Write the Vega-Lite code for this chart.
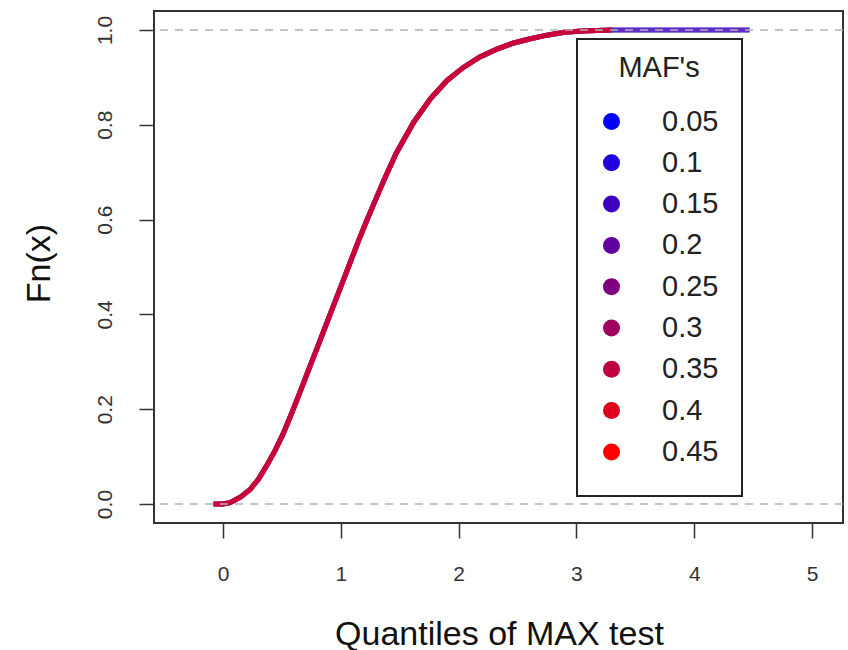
{
  "$schema": "https://vega.github.io/schema/vega-lite/v6.json",
  "autosize": {"type": "none"},
  "padding": {"left": 154, "top": 11, "right": 5, "bottom": 127},
  "width": 689,
  "height": 512,
  "background": "white",
  "datasets": {
    "curves": [
      {"maf":"0.05","q":-0.08,"Fn":0},{"maf":"0.05","q":0,"Fn":0},{"maf":"0.05","q":0.06,"Fn":0.003},{"maf":"0.05","q":0.15,"Fn":0.015},{"maf":"0.05","q":0.23,"Fn":0.031},{"maf":"0.05","q":0.3,"Fn":0.052},{"maf":"0.05","q":0.37,"Fn":0.081},{"maf":"0.05","q":0.44,"Fn":0.112},{"maf":"0.05","q":0.51,"Fn":0.148},{"maf":"0.05","q":0.58,"Fn":0.19},{"maf":"0.05","q":0.65,"Fn":0.234},{"maf":"0.05","q":0.72,"Fn":0.279},{"maf":"0.05","q":0.8,"Fn":0.33},{"maf":"0.05","q":0.87,"Fn":0.375},{"maf":"0.05","q":0.94,"Fn":0.42},{"maf":"0.05","q":1.01,"Fn":0.465},{"maf":"0.05","q":1.08,"Fn":0.51},{"maf":"0.05","q":1.15,"Fn":0.555},{"maf":"0.05","q":1.22,"Fn":0.598},{"maf":"0.05","q":1.29,"Fn":0.639},{"maf":"0.05","q":1.36,"Fn":0.68},{"maf":"0.05","q":1.47,"Fn":0.74},{"maf":"0.05","q":1.62,"Fn":0.806},{"maf":"0.05","q":1.76,"Fn":0.855},{"maf":"0.05","q":1.9,"Fn":0.893},{"maf":"0.05","q":2.04,"Fn":0.921},{"maf":"0.05","q":2.18,"Fn":0.943},{"maf":"0.05","q":2.32,"Fn":0.959},{"maf":"0.05","q":2.46,"Fn":0.972},{"maf":"0.05","q":2.6,"Fn":0.981},{"maf":"0.05","q":2.75,"Fn":0.989},{"maf":"0.05","q":2.9,"Fn":0.995},{"maf":"0.05","q":3.05,"Fn":0.998},{"maf":"0.05","q":3.3,"Fn":1},{"maf":"0.05","q":4.47,"Fn":1},
      {"maf":"0.1","q":-0.08,"Fn":0},{"maf":"0.1","q":0,"Fn":0},{"maf":"0.1","q":0.06,"Fn":0.003},{"maf":"0.1","q":0.15,"Fn":0.015},{"maf":"0.1","q":0.23,"Fn":0.031},{"maf":"0.1","q":0.3,"Fn":0.052},{"maf":"0.1","q":0.37,"Fn":0.081},{"maf":"0.1","q":0.44,"Fn":0.112},{"maf":"0.1","q":0.51,"Fn":0.148},{"maf":"0.1","q":0.58,"Fn":0.19},{"maf":"0.1","q":0.65,"Fn":0.234},{"maf":"0.1","q":0.72,"Fn":0.279},{"maf":"0.1","q":0.8,"Fn":0.33},{"maf":"0.1","q":0.87,"Fn":0.375},{"maf":"0.1","q":0.94,"Fn":0.42},{"maf":"0.1","q":1.01,"Fn":0.465},{"maf":"0.1","q":1.08,"Fn":0.51},{"maf":"0.1","q":1.15,"Fn":0.555},{"maf":"0.1","q":1.22,"Fn":0.598},{"maf":"0.1","q":1.29,"Fn":0.639},{"maf":"0.1","q":1.36,"Fn":0.68},{"maf":"0.1","q":1.47,"Fn":0.74},{"maf":"0.1","q":1.62,"Fn":0.806},{"maf":"0.1","q":1.76,"Fn":0.855},{"maf":"0.1","q":1.9,"Fn":0.893},{"maf":"0.1","q":2.04,"Fn":0.921},{"maf":"0.1","q":2.18,"Fn":0.943},{"maf":"0.1","q":2.32,"Fn":0.959},{"maf":"0.1","q":2.46,"Fn":0.972},{"maf":"0.1","q":2.6,"Fn":0.981},{"maf":"0.1","q":2.75,"Fn":0.989},{"maf":"0.1","q":2.9,"Fn":0.995},{"maf":"0.1","q":3.05,"Fn":0.998},{"maf":"0.1","q":3.3,"Fn":1},{"maf":"0.1","q":4.47,"Fn":1},
      {"maf":"0.15","q":-0.08,"Fn":0},{"maf":"0.15","q":0,"Fn":0},{"maf":"0.15","q":0.06,"Fn":0.003},{"maf":"0.15","q":0.15,"Fn":0.015},{"maf":"0.15","q":0.23,"Fn":0.031},{"maf":"0.15","q":0.3,"Fn":0.052},{"maf":"0.15","q":0.37,"Fn":0.081},{"maf":"0.15","q":0.44,"Fn":0.112},{"maf":"0.15","q":0.51,"Fn":0.148},{"maf":"0.15","q":0.58,"Fn":0.19},{"maf":"0.15","q":0.65,"Fn":0.234},{"maf":"0.15","q":0.72,"Fn":0.279},{"maf":"0.15","q":0.8,"Fn":0.33},{"maf":"0.15","q":0.87,"Fn":0.375},{"maf":"0.15","q":0.94,"Fn":0.42},{"maf":"0.15","q":1.01,"Fn":0.465},{"maf":"0.15","q":1.08,"Fn":0.51},{"maf":"0.15","q":1.15,"Fn":0.555},{"maf":"0.15","q":1.22,"Fn":0.598},{"maf":"0.15","q":1.29,"Fn":0.639},{"maf":"0.15","q":1.36,"Fn":0.68},{"maf":"0.15","q":1.47,"Fn":0.74},{"maf":"0.15","q":1.62,"Fn":0.806},{"maf":"0.15","q":1.76,"Fn":0.855},{"maf":"0.15","q":1.9,"Fn":0.893},{"maf":"0.15","q":2.04,"Fn":0.921},{"maf":"0.15","q":2.18,"Fn":0.943},{"maf":"0.15","q":2.32,"Fn":0.959},{"maf":"0.15","q":2.46,"Fn":0.972},{"maf":"0.15","q":2.6,"Fn":0.981},{"maf":"0.15","q":2.75,"Fn":0.989},{"maf":"0.15","q":2.9,"Fn":0.995},{"maf":"0.15","q":3.05,"Fn":0.998},{"maf":"0.15","q":3.3,"Fn":1},{"maf":"0.15","q":4.47,"Fn":1},
      {"maf":"0.2","q":-0.08,"Fn":0},{"maf":"0.2","q":0,"Fn":0},{"maf":"0.2","q":0.06,"Fn":0.003},{"maf":"0.2","q":0.15,"Fn":0.015},{"maf":"0.2","q":0.23,"Fn":0.031},{"maf":"0.2","q":0.3,"Fn":0.052},{"maf":"0.2","q":0.37,"Fn":0.081},{"maf":"0.2","q":0.44,"Fn":0.112},{"maf":"0.2","q":0.51,"Fn":0.148},{"maf":"0.2","q":0.58,"Fn":0.19},{"maf":"0.2","q":0.65,"Fn":0.234},{"maf":"0.2","q":0.72,"Fn":0.279},{"maf":"0.2","q":0.8,"Fn":0.33},{"maf":"0.2","q":0.87,"Fn":0.375},{"maf":"0.2","q":0.94,"Fn":0.42},{"maf":"0.2","q":1.01,"Fn":0.465},{"maf":"0.2","q":1.08,"Fn":0.51},{"maf":"0.2","q":1.15,"Fn":0.555},{"maf":"0.2","q":1.22,"Fn":0.598},{"maf":"0.2","q":1.29,"Fn":0.639},{"maf":"0.2","q":1.36,"Fn":0.68},{"maf":"0.2","q":1.47,"Fn":0.74},{"maf":"0.2","q":1.62,"Fn":0.806},{"maf":"0.2","q":1.76,"Fn":0.855},{"maf":"0.2","q":1.9,"Fn":0.893},{"maf":"0.2","q":2.04,"Fn":0.921},{"maf":"0.2","q":2.18,"Fn":0.943},{"maf":"0.2","q":2.32,"Fn":0.959},{"maf":"0.2","q":2.46,"Fn":0.972},{"maf":"0.2","q":2.6,"Fn":0.981},{"maf":"0.2","q":2.75,"Fn":0.989},{"maf":"0.2","q":2.9,"Fn":0.995},{"maf":"0.2","q":3.05,"Fn":0.998},{"maf":"0.2","q":3.3,"Fn":1},{"maf":"0.2","q":4.47,"Fn":1},
      {"maf":"0.25","q":-0.08,"Fn":0},{"maf":"0.25","q":0,"Fn":0},{"maf":"0.25","q":0.06,"Fn":0.003},{"maf":"0.25","q":0.15,"Fn":0.015},{"maf":"0.25","q":0.23,"Fn":0.031},{"maf":"0.25","q":0.3,"Fn":0.052},{"maf":"0.25","q":0.37,"Fn":0.081},{"maf":"0.25","q":0.44,"Fn":0.112},{"maf":"0.25","q":0.51,"Fn":0.148},{"maf":"0.25","q":0.58,"Fn":0.19},{"maf":"0.25","q":0.65,"Fn":0.234},{"maf":"0.25","q":0.72,"Fn":0.279},{"maf":"0.25","q":0.8,"Fn":0.33},{"maf":"0.25","q":0.87,"Fn":0.375},{"maf":"0.25","q":0.94,"Fn":0.42},{"maf":"0.25","q":1.01,"Fn":0.465},{"maf":"0.25","q":1.08,"Fn":0.51},{"maf":"0.25","q":1.15,"Fn":0.555},{"maf":"0.25","q":1.22,"Fn":0.598},{"maf":"0.25","q":1.29,"Fn":0.639},{"maf":"0.25","q":1.36,"Fn":0.68},{"maf":"0.25","q":1.47,"Fn":0.74},{"maf":"0.25","q":1.62,"Fn":0.806},{"maf":"0.25","q":1.76,"Fn":0.855},{"maf":"0.25","q":1.9,"Fn":0.893},{"maf":"0.25","q":2.04,"Fn":0.921},{"maf":"0.25","q":2.18,"Fn":0.943},{"maf":"0.25","q":2.32,"Fn":0.959},{"maf":"0.25","q":2.46,"Fn":0.972},{"maf":"0.25","q":2.6,"Fn":0.981},{"maf":"0.25","q":2.75,"Fn":0.989},{"maf":"0.25","q":2.9,"Fn":0.995},{"maf":"0.25","q":3.05,"Fn":0.998},{"maf":"0.25","q":3.3,"Fn":1},
      {"maf":"0.3","q":-0.08,"Fn":0},{"maf":"0.3","q":0,"Fn":0},{"maf":"0.3","q":0.06,"Fn":0.003},{"maf":"0.3","q":0.15,"Fn":0.015},{"maf":"0.3","q":0.23,"Fn":0.031},{"maf":"0.3","q":0.3,"Fn":0.052},{"maf":"0.3","q":0.37,"Fn":0.081},{"maf":"0.3","q":0.44,"Fn":0.112},{"maf":"0.3","q":0.51,"Fn":0.148},{"maf":"0.3","q":0.58,"Fn":0.19},{"maf":"0.3","q":0.65,"Fn":0.234},{"maf":"0.3","q":0.72,"Fn":0.279},{"maf":"0.3","q":0.8,"Fn":0.33},{"maf":"0.3","q":0.87,"Fn":0.375},{"maf":"0.3","q":0.94,"Fn":0.42},{"maf":"0.3","q":1.01,"Fn":0.465},{"maf":"0.3","q":1.08,"Fn":0.51},{"maf":"0.3","q":1.15,"Fn":0.555},{"maf":"0.3","q":1.22,"Fn":0.598},{"maf":"0.3","q":1.29,"Fn":0.639},{"maf":"0.3","q":1.36,"Fn":0.68},{"maf":"0.3","q":1.47,"Fn":0.74},{"maf":"0.3","q":1.62,"Fn":0.806},{"maf":"0.3","q":1.76,"Fn":0.855},{"maf":"0.3","q":1.9,"Fn":0.893},{"maf":"0.3","q":2.04,"Fn":0.921},{"maf":"0.3","q":2.18,"Fn":0.943},{"maf":"0.3","q":2.32,"Fn":0.959},{"maf":"0.3","q":2.46,"Fn":0.972},{"maf":"0.3","q":2.6,"Fn":0.981},{"maf":"0.3","q":2.75,"Fn":0.989},{"maf":"0.3","q":2.9,"Fn":0.995},{"maf":"0.3","q":3.05,"Fn":0.998},{"maf":"0.3","q":3.3,"Fn":1},
      {"maf":"0.35","q":-0.08,"Fn":0},{"maf":"0.35","q":0,"Fn":0},{"maf":"0.35","q":0.06,"Fn":0.003},{"maf":"0.35","q":0.15,"Fn":0.015},{"maf":"0.35","q":0.23,"Fn":0.031},{"maf":"0.35","q":0.3,"Fn":0.052},{"maf":"0.35","q":0.37,"Fn":0.081},{"maf":"0.35","q":0.44,"Fn":0.112},{"maf":"0.35","q":0.51,"Fn":0.148},{"maf":"0.35","q":0.58,"Fn":0.19},{"maf":"0.35","q":0.65,"Fn":0.234},{"maf":"0.35","q":0.72,"Fn":0.279},{"maf":"0.35","q":0.8,"Fn":0.33},{"maf":"0.35","q":0.87,"Fn":0.375},{"maf":"0.35","q":0.94,"Fn":0.42},{"maf":"0.35","q":1.01,"Fn":0.465},{"maf":"0.35","q":1.08,"Fn":0.51},{"maf":"0.35","q":1.15,"Fn":0.555},{"maf":"0.35","q":1.22,"Fn":0.598},{"maf":"0.35","q":1.29,"Fn":0.639},{"maf":"0.35","q":1.36,"Fn":0.68},{"maf":"0.35","q":1.47,"Fn":0.74},{"maf":"0.35","q":1.62,"Fn":0.806},{"maf":"0.35","q":1.76,"Fn":0.855},{"maf":"0.35","q":1.9,"Fn":0.893},{"maf":"0.35","q":2.04,"Fn":0.921},{"maf":"0.35","q":2.18,"Fn":0.943},{"maf":"0.35","q":2.32,"Fn":0.959},{"maf":"0.35","q":2.46,"Fn":0.972},{"maf":"0.35","q":2.6,"Fn":0.981},{"maf":"0.35","q":2.75,"Fn":0.989},{"maf":"0.35","q":2.9,"Fn":0.995},{"maf":"0.35","q":3.05,"Fn":0.998},{"maf":"0.35","q":3.3,"Fn":1},
      {"maf":"0.4","q":-0.08,"Fn":0},{"maf":"0.4","q":0,"Fn":0},{"maf":"0.4","q":0.06,"Fn":0.003},{"maf":"0.4","q":0.15,"Fn":0.015},{"maf":"0.4","q":0.23,"Fn":0.031},{"maf":"0.4","q":0.3,"Fn":0.052},{"maf":"0.4","q":0.37,"Fn":0.081},{"maf":"0.4","q":0.44,"Fn":0.112},{"maf":"0.4","q":0.51,"Fn":0.148},{"maf":"0.4","q":0.58,"Fn":0.19},{"maf":"0.4","q":0.65,"Fn":0.234},{"maf":"0.4","q":0.72,"Fn":0.279},{"maf":"0.4","q":0.8,"Fn":0.33},{"maf":"0.4","q":0.87,"Fn":0.375},{"maf":"0.4","q":0.94,"Fn":0.42},{"maf":"0.4","q":1.01,"Fn":0.465},{"maf":"0.4","q":1.08,"Fn":0.51},{"maf":"0.4","q":1.15,"Fn":0.555},{"maf":"0.4","q":1.22,"Fn":0.598},{"maf":"0.4","q":1.29,"Fn":0.639},{"maf":"0.4","q":1.36,"Fn":0.68},{"maf":"0.4","q":1.47,"Fn":0.74},{"maf":"0.4","q":1.62,"Fn":0.806},{"maf":"0.4","q":1.76,"Fn":0.855},{"maf":"0.4","q":1.9,"Fn":0.893},{"maf":"0.4","q":2.04,"Fn":0.921},{"maf":"0.4","q":2.18,"Fn":0.943},{"maf":"0.4","q":2.32,"Fn":0.959},{"maf":"0.4","q":2.46,"Fn":0.972},{"maf":"0.4","q":2.6,"Fn":0.981},{"maf":"0.4","q":2.75,"Fn":0.989},{"maf":"0.4","q":2.9,"Fn":0.995},{"maf":"0.4","q":3.05,"Fn":0.998},{"maf":"0.4","q":3.3,"Fn":1},
      {"maf":"0.45","q":-0.08,"Fn":0},{"maf":"0.45","q":0,"Fn":0},{"maf":"0.45","q":0.06,"Fn":0.003},{"maf":"0.45","q":0.15,"Fn":0.015},{"maf":"0.45","q":0.23,"Fn":0.031},{"maf":"0.45","q":0.3,"Fn":0.052},{"maf":"0.45","q":0.37,"Fn":0.081},{"maf":"0.45","q":0.44,"Fn":0.112},{"maf":"0.45","q":0.51,"Fn":0.148},{"maf":"0.45","q":0.58,"Fn":0.19},{"maf":"0.45","q":0.65,"Fn":0.234},{"maf":"0.45","q":0.72,"Fn":0.279},{"maf":"0.45","q":0.8,"Fn":0.33},{"maf":"0.45","q":0.87,"Fn":0.375},{"maf":"0.45","q":0.94,"Fn":0.42},{"maf":"0.45","q":1.01,"Fn":0.465},{"maf":"0.45","q":1.08,"Fn":0.51},{"maf":"0.45","q":1.15,"Fn":0.555},{"maf":"0.45","q":1.22,"Fn":0.598},{"maf":"0.45","q":1.29,"Fn":0.639},{"maf":"0.45","q":1.36,"Fn":0.68},{"maf":"0.45","q":1.47,"Fn":0.74},{"maf":"0.45","q":1.62,"Fn":0.806},{"maf":"0.45","q":1.76,"Fn":0.855},{"maf":"0.45","q":1.9,"Fn":0.893},{"maf":"0.45","q":2.04,"Fn":0.921},{"maf":"0.45","q":2.18,"Fn":0.943},{"maf":"0.45","q":2.32,"Fn":0.959},{"maf":"0.45","q":2.46,"Fn":0.972},{"maf":"0.45","q":2.6,"Fn":0.981},{"maf":"0.45","q":2.75,"Fn":0.989},{"maf":"0.45","q":2.9,"Fn":0.995},{"maf":"0.45","q":3.05,"Fn":0.998},{"maf":"0.45","q":3.3,"Fn":1}
    ],
    "refs": [{"level": 0}, {"level": 1}]
  },
  "layer": [
    {
      "data": {"name": "curves"},
      "mark": {"type": "line", "strokeWidth": 5, "opacity": 0.35, "interpolate": "linear"},
      "encoding": {
        "x": {
          "field": "q", "type": "quantitative",
          "scale": {"domain": [-0.586, 5.263], "nice": false, "zero": false},
          "axis": {
            "title": "Quantiles of MAX test",
            "values": [0, 1, 2, 3, 4, 5],
            "format": "d",
            "labelPadding": 42, "labelBaseline": "alphabetic",
            "titleX": 345, "titleY": 121, "titleAlign": "center", "titleBaseline": "alphabetic",
            "titleFontSize": 34
          }
        },
        "y": {
          "field": "Fn", "type": "quantitative",
          "scale": {"domain": [-0.04, 1.04], "nice": false, "zero": false},
          "axis": {
            "title": "Fn(x)",
            "values": [0, 0.2, 0.4, 0.6, 0.8, 1],
            "format": ".1f",
            "labelAngle": 270, "labelAlign": "center", "labelBaseline": "alphabetic", "labelPadding": 28,
            "titleAngle": 270, "titleX": -105, "titleY": 252, "titleAlign": "center", "titleBaseline": "alphabetic",
            "titleFontSize": 34
          }
        },
        "color": {
          "field": "maf", "type": "nominal",
          "scale": {
            "domain": ["0.05", "0.1", "0.15", "0.2", "0.25", "0.3", "0.35", "0.4", "0.45"],
            "range": ["#0000FF", "#1F00DF", "#3F00BF", "#5F009F", "#7F007F", "#9F005F", "#BF003F", "#DF001F", "#FF0000"]
          },
          "legend": {
            "title": "MAF's",
            "orient": "none", "legendX": 423, "legendY": 28, "direction": "vertical",
            "fillColor": "white", "strokeColor": "#222", "padding": 23,
            "symbolType": "circle", "symbolSize": 290, "symbolOpacity": 1, "symbolStrokeWidth": 0, "symbolOffset": -3,
            "labelFontSize": 29, "labelColor": "#222", "labelOffset": 36, "labelFont": "Liberation Sans",
            "clipHeight": 41, "rowPadding": 0.3,
            "titleFontSize": 29, "titleFontWeight": "normal", "titleColor": "#222", "titleFont": "Liberation Sans",
            "titleAnchor": "middle", "titlePadding": 10,
            "encode": {
              "symbols": {"update": {"fill": {"scale": "color", "field": "value"}, "opacity": {"value": 1}}},
              "title": {"update": {"dy": {"value": -8}}},
              "legend": {"update": {"strokeWidth": {"value": 2}}}
            }
          }
        }
      }
    },
    {
      "data": {"name": "refs"},
      "mark": {"type": "rule", "color": "#B3B3B3", "strokeWidth": 1.5, "strokeDash": [8, 7]},
      "encoding": {
        "y": {"field": "level", "type": "quantitative"}
      }
    }
  ],
  "config": {
    "font": "Liberation Sans",
    "view": {"stroke": "#333", "strokeWidth": 2},
    "axis": {
      "domain": false, "grid": false,
      "tickSize": 15, "tickWidth": 1.5, "tickColor": "#333",
      "labelFontSize": 21, "labelColor": "#333", "labelFont": "Liberation Sans",
      "titleFont": "Liberation Sans", "titleFontWeight": "normal", "titleColor": "#111"
    }
  }
}
